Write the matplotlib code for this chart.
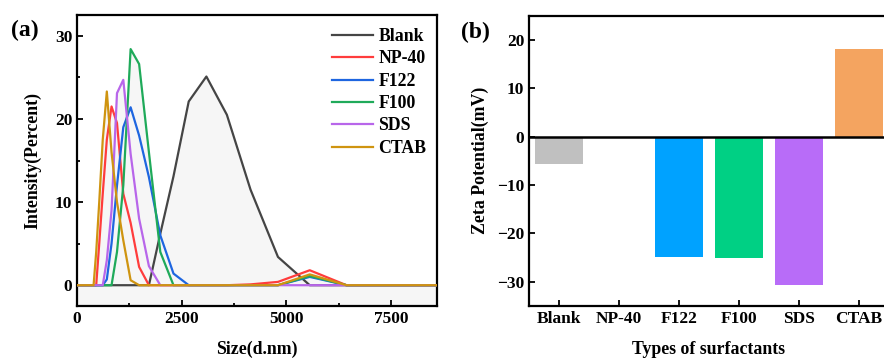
import matplotlib
matplotlib.use("Agg")
import matplotlib.pyplot as plt
from matplotlib.ticker import MultipleLocator, AutoMinorLocator

plt.rcParams['font.family'] = ['Liberation Serif', 'DejaVu Serif']
plt.rcParams['font.weight'] = 'bold'

# ---------- data: panel (a) DLS size distribution ----------
size_nm = [0.4, 342.0, 396.1, 458.7, 531.2, 615.1, 712.4, 825.0, 955.4, 1106, 1281,
           1484, 1718, 1990, 2305, 2669, 3091, 3580, 4145, 4801, 5560, 6439, 7456, 8635, 10000]
blank = [0, 0, 0, 0, 0, 0, 0, 0, 0, 0, 0, 0, 0, 6.2, 13.1, 22.1, 25.1, 20.5, 11.5, 3.4, 0, 0, 0, 0, 0]
np40  = [0, 0, 0, 0, 5.0, 11.0, 17.5, 21.5, 19.5, 11.0, 7.5, 2.2, 0, 0, 0, 0, 0, 0, 0.1, 0.4, 1.8, 0, 0, 0, 0]
f122  = [0, 0, 0, 0, 0, 0, 0.7, 5.0, 12.0, 19.0, 21.4, 18.0, 13.0, 6.0, 1.4, 0, 0, 0, 0, 0, 1.0, 0, 0, 0, 0]
f100  = [0, 0, 0, 0, 0, 0, 0, 0, 4.0, 12.0, 28.4, 26.6, 16.0, 4.0, 0, 0, 0, 0, 0, 0, 1.1, 0, 0, 0, 0]
sds   = [0, 0, 0, 0, 0, 0, 3.0, 9.0, 23.1, 24.7, 15.8, 8.0, 2.3, 0, 0, 0, 0, 0, 0, 0, 0, 0, 0, 0, 0]
ctab  = [0, 0, 0, 4.0, 10.0, 17.5, 23.3, 16.0, 10.0, 5.4, 0.6, 0, 0, 0, 0, 0, 0, 0, 0, 0, 1.3, 0, 0, 0, 0]
series_names = ["Blank", "NP-40", "F122", "F100", "SDS", "CTAB"]
series_data = [blank, np40, f122, f100, sds, ctab]
line_colors = ["#454545", "#ff3c3c", "#1e66e0", "#1faa5a", "#b866ea", "#cf9410"]

# ---------- data: panel (b) zeta potential ----------
surfactants = ["Blank", "NP-40", "F122", "F100", "SDS", "CTAB"]
zeta_mV = [-5.7, 0.0, -24.8, -25.0, -30.6, 18.2]
bar_colors = ["#c0c0c0", "#ffffff", "#00a2ff", "#00d084", "#b86cf8", "#f4a460"]

TICK_FS = 12.5
LABEL_FS = 12.8

fig = plt.figure(figsize=(8.84, 3.6), dpi=100)

# ---------------- panel (a) ----------------
ax1 = fig.add_axes([77/884, 54/360, 360/884, 291/360])
ymin_a = -2.5
for d in series_data:
    ax1.fill_between(size_nm, d, ymin_a, color="#f6f6f6", lw=0, zorder=1)
for name, d, c in zip(series_names, series_data, line_colors):
    ax1.plot(size_nm, d, color=c, lw=1.6, label=name, zorder=3)
ax1.set_xlim(0, 8600)
ax1.set_ylim(ymin_a, 32.5)
ax1.xaxis.set_major_locator(MultipleLocator(2500))
ax1.xaxis.set_minor_locator(AutoMinorLocator(2))
ax1.yaxis.set_major_locator(MultipleLocator(10))
ax1.yaxis.set_minor_locator(AutoMinorLocator(2))
ax1.tick_params(which='both', direction='in', width=1.3)
ax1.tick_params(which='major', length=4, labelsize=TICK_FS)
ax1.tick_params(which='minor', length=2.5)
for s in ax1.spines.values():
    s.set_linewidth(1.6)
ax1.set_xlabel("Size(d.nm)", fontsize=LABEL_FS, fontweight='bold', labelpad=10)
ax1.set_ylabel("Intensity(Percent)", fontsize=LABEL_FS, fontweight='bold', labelpad=10)
leg = ax1.legend(loc='upper right', bbox_to_anchor=(1.015, 1.01), frameon=False,
                 fontsize=12.8, handlelength=2.3, handletextpad=0.3, labelspacing=0.3)
for t in leg.get_texts():
    t.set_fontweight('bold')
fig.text(11/884, 1 - 30/360, "(a)", fontsize=17, fontweight='bold', va='center', ha='left')

# ---------------- panel (b) ----------------
ax2 = fig.add_axes([529/884, 54/360, 360/884, 290.3/360])
xpos = list(range(len(surfactants)))
ax2.bar(xpos, zeta_mV, width=0.8, color=bar_colors, edgecolor='none', zorder=2)
ax2.axhline(0, color='black', lw=1.8, zorder=3)
ax2.set_xlim(-0.5, 5.5)
ax2.set_ylim(-35, 25)
ax2.set_xticks(xpos)
ax2.set_xticklabels(surfactants)
ax2.yaxis.set_major_locator(MultipleLocator(10))
ax2.tick_params(which='both', direction='in', width=1.3, length=4, labelsize=TICK_FS)
for s in ax2.spines.values():
    s.set_linewidth(1.6)
ax2.set_xlabel("Types of surfactants", fontsize=LABEL_FS, fontweight='bold', labelpad=10)
ax2.set_ylabel("Zeta Potential(mV)", fontsize=LABEL_FS, fontweight='bold', labelpad=6)
fig.text(461/884, 1 - 32/360, "(b)", fontsize=17, fontweight='bold', va='center', ha='left')

fig.savefig("out.png", dpi=100)
